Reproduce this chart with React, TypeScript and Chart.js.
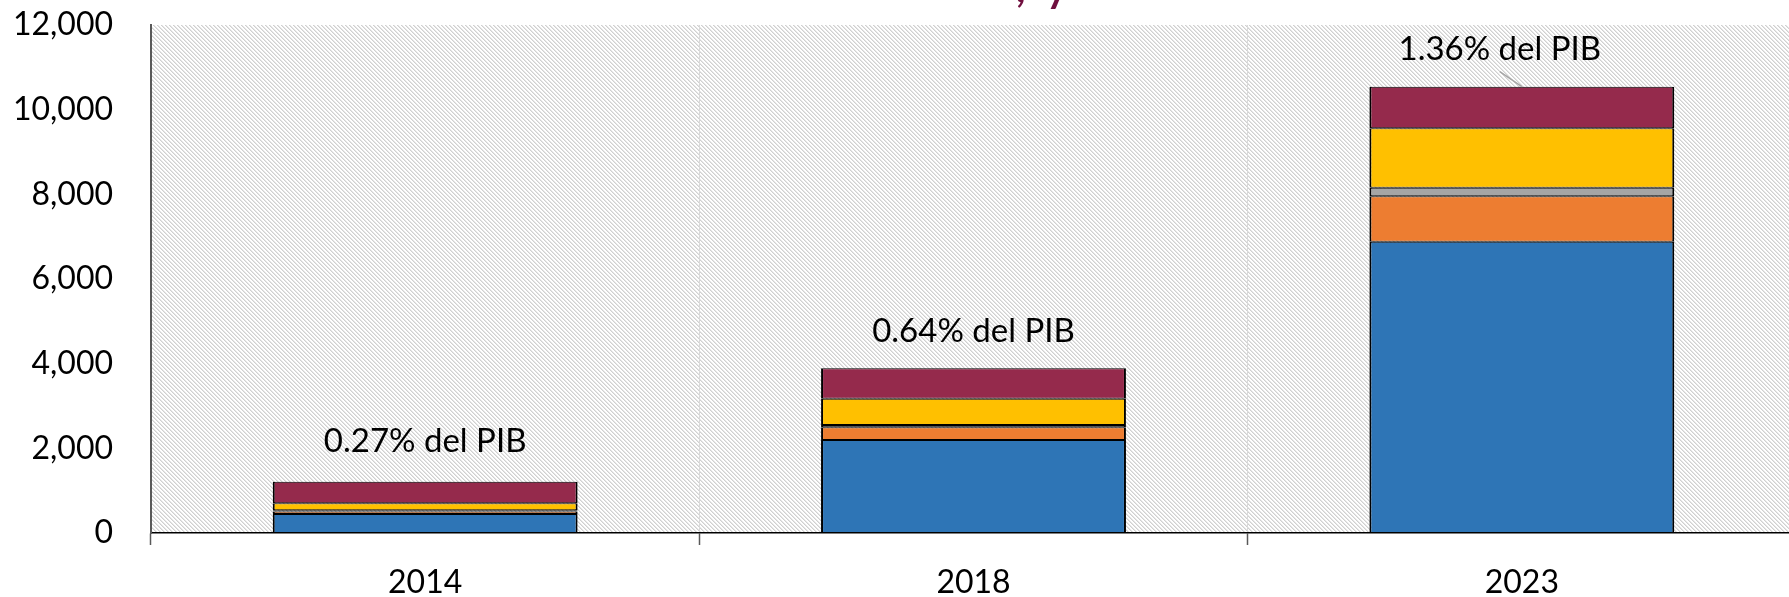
import React, { useEffect, useRef } from 'react';
import { Chart, registerables } from 'chart.js';

Chart.register(...registerables);

const categories = ['2014', '2018', '2023'];
const seriesBlue = [450, 2197, 6882];
const seriesOrange = [60, 300, 1072];
const seriesGray = [30, 55, 203];
const seriesYellow = [165, 621, 1403];
const seriesMaroon = [505, 718, 983];
const pibLabels = ['0.27% del PIB', '0.64% del PIB', '1.36% del PIB'];
const yTickValues = [0, 2000, 4000, 6000, 8000, 10000, 12000];
const titleFragment = [',', 'y'];

const FONT = 'Lato, "Open Sans", sans-serif';
const CANVAS_W = 1800;
const CANVAS_H = 597;

function makeHatch(ctx: CanvasRenderingContext2D) {
  const c = document.createElement('canvas');
  c.width = 4;
  c.height = 4;
  const g = c.getContext('2d')!;
  g.fillStyle = '#ffffff';
  g.fillRect(0, 0, 4, 4);
  for (let i = 0; i < 4; i++) {
    g.fillStyle = '#d0d0d0';
    g.fillRect(i, i, 1, 1);
    g.fillStyle = '#e6e6e6';
    g.fillRect((i + 1) % 4, i, 1, 1);
  }
  return ctx.createPattern(c, 'repeat');
}

const hatchPlugin = {
  id: 'hatchBg',
  beforeDraw(chart: any) {
    const { ctx, chartArea } = chart;
    const pat = makeHatch(ctx);
    if (!pat) return;
    ctx.save();
    ctx.fillStyle = pat;
    ctx.fillRect(chartArea.left, chartArea.top, chartArea.right - chartArea.left, chartArea.bottom - chartArea.top);
    ctx.restore();
  },
};

const labelPlugin = {
  id: 'pibLabels',
  afterDatasetsDraw(chart: any) {
    const { ctx } = chart;
    const xs = chart.scales.x;
    const ys = chart.scales.y;
    const dxs = [0, 0, -22];
    const dys = [-40, -37, -37];
    ctx.save();
    ctx.font = `33px ${FONT}`;
    ctx.fillStyle = '#000';
    ctx.textAlign = 'center';
    ctx.textBaseline = 'middle';
    categories.forEach((_, i) => {
      const total = seriesBlue[i] + seriesOrange[i] + seriesGray[i] + seriesYellow[i] + seriesMaroon[i];
      const cx = xs.getPixelForValue(i);
      const top = ys.getPixelForValue(total);
      const lx = cx + dxs[i];
      const ly = top + dys[i];
      ctx.fillText(pibLabels[i], lx, ly);
      if (dxs[i] !== 0) {
        ctx.strokeStyle = '#a6a6a6';
        ctx.lineWidth = 1.5;
        ctx.beginPath();
        ctx.moveTo(lx, ly + 22);
        ctx.lineTo(cx, top);
        ctx.stroke();
      }
    });
    ctx.restore();
  },
  afterDraw(chart: any) {
    const { ctx } = chart;
    ctx.save();
    ctx.font = `bold 40px ${FONT}`;
    ctx.fillStyle = '#700f3e';
    ctx.textBaseline = 'alphabetic';
    ctx.textAlign = 'left';
    ctx.fillText(titleFragment[0], 1016, 1.5);
    ctx.fillText(titleFragment[1], 1046, 1.5);
    ctx.restore();
  },
};

export default function App() {
  const ref = useRef<HTMLCanvasElement | null>(null);

  useEffect(() => {
    if (!ref.current) return;
    const border = { top: 1, bottom: 1, left: 2, right: 2 };
    const mk = (label: string, data: number[], color: string) => ({
      label,
      data,
      backgroundColor: color,
      borderColor: '#000000',
      borderWidth: border,
      borderSkipped: false,
      barPercentage: 0.556,
      categoryPercentage: 1,
    });
    const chart = new Chart(ref.current, {
      type: 'bar',
      data: {
        labels: categories,
        datasets: [
          mk('Serie 1', seriesBlue, '#2e75b6'),
          mk('Serie 2', seriesOrange, '#ed7d31'),
          mk('Serie 3', seriesGray, '#a5a5a5'),
          mk('Serie 4', seriesYellow, '#ffc000'),
          mk('Serie 5', seriesMaroon, '#952a4c'),
        ] as any,
      },
      options: {
        responsive: false,
        animation: false,
        devicePixelRatio: 1,
        layout: { padding: { top: 25, left: 0, right: CANVAS_W - 1796, bottom: 0 } },
        plugins: {
          legend: { display: false },
          tooltip: { enabled: false },
          title: { display: false },
        },
        scales: {
          x: {
            stacked: true,
            offset: true,
            grid: {
              offset: true,
              color: '#d9d9d9',
              lineWidth: 1,
              tickColor: '#595959',
              tickLength: 12,
              tickWidth: 1.5,
              drawTicks: true,
            },
            border: { display: true, color: '#000000', width: 1.5 },
            ticks: {
              color: '#000000',
              font: { family: FONT, size: 32 },
              padding: 18,
              maxRotation: 0,
            },
            afterFit: (s: any) => {
              s.height = CANVAS_H - 533;
              s.paddingLeft = 0;
              s.paddingRight = 0;
            },
          },
          y: {
            stacked: true,
            min: 0,
            max: 12000,
            afterBuildTicks: (s: any) => {
              s.ticks = yTickValues.map((v) => ({ value: v }));
            },
            grid: { display: false, drawTicks: false },
            border: { display: true, color: '#595959', width: 2, z: 2 },
            ticks: {
              color: '#000000',
              font: { family: FONT, size: 32 },
              padding: 38,
              callback: (v: any) => Number(v).toLocaleString('en-US'),
            },
            afterFit: (s: any) => {
              s.width = 151;
              s.paddingTop = 0;
              s.paddingBottom = 0;
            },
          },
        },
      },
      plugins: [hatchPlugin, labelPlugin],
    });
    return () => chart.destroy();
  }, []);

  return (
    <div style={{ position: 'fixed', left: 0, top: 0, width: 1789, height: 597, overflow: 'hidden', background: '#fff' }}>
      <canvas ref={ref} width={CANVAS_W} height={CANVAS_H} style={{ display: 'block' }} />
    </div>
  );
}
